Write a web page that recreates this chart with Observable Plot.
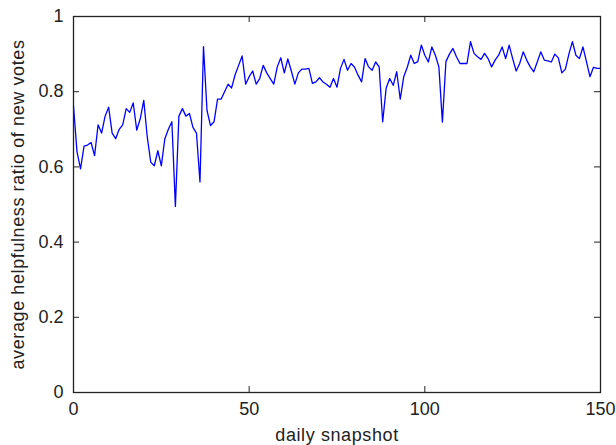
<!DOCTYPE html>
<html>
<head>
<meta charset="utf-8">
<script src="https://cdn.jsdelivr.net/npm/d3@7"></script>
<script src="https://cdn.jsdelivr.net/npm/@observablehq/plot@0.6"></script>
<style>
  html, body { margin: 0; padding: 0; background: #fff; }
  svg { display: block; }
</style>
</head>
<body>
<div id="chart"></div>
<script>
// Average helpfulness ratio of new votes, one value per daily snapshot (day 0..150)
const ratio = [
  0.762, 0.64, 0.595, 0.655, 0.658, 0.665, 0.63, 0.712, 0.69, 0.735,
  0.759, 0.69, 0.675, 0.70, 0.712, 0.755, 0.745, 0.77, 0.698, 0.728,
  0.777, 0.679, 0.612, 0.603, 0.643, 0.603, 0.675, 0.70, 0.72, 0.495,
  0.735, 0.755, 0.735, 0.742, 0.705, 0.69, 0.56, 0.92, 0.75, 0.71,
  0.72, 0.78, 0.78, 0.80, 0.82, 0.81, 0.845, 0.87, 0.895, 0.82,
  0.84, 0.855, 0.82, 0.835, 0.87, 0.85, 0.835, 0.82, 0.866, 0.89,
  0.85, 0.887, 0.855, 0.82, 0.85, 0.86, 0.86, 0.862, 0.822, 0.826,
  0.837, 0.826, 0.82, 0.812, 0.835, 0.812, 0.862, 0.886, 0.857, 0.875,
  0.865, 0.844, 0.826, 0.888, 0.866, 0.857, 0.879, 0.866, 0.72, 0.81,
  0.835, 0.817, 0.853, 0.78, 0.84, 0.865, 0.897, 0.875, 0.88, 0.924,
  0.897, 0.879, 0.919, 0.897, 0.866, 0.719, 0.88, 0.90, 0.915, 0.893,
  0.875, 0.875, 0.875, 0.933, 0.902, 0.893, 0.886, 0.902, 0.888, 0.866,
  0.884, 0.897, 0.919, 0.888, 0.924, 0.888, 0.855, 0.875, 0.906, 0.884,
  0.866, 0.853, 0.879, 0.906, 0.884, 0.882, 0.879, 0.90, 0.89, 0.85,
  0.86, 0.90, 0.933, 0.897, 0.888, 0.919, 0.88, 0.84, 0.865, 0.862,
  0.862
];
const xTicks = [0, 50, 100, 150];
const yTicks = [0, 0.2, 0.4, 0.6, 0.8, 1];
const xDomain = [0, 150];
const yDomain = [0, 1];
const xTitle = "daily snapshot";
const yTitle = "average helpfulness ratio of new votes";

const W = 616, H = 445;
const mL = 73, mR = 16, mT = 16, mB = 53;
const innerW = W - mL - mR, innerH = H - mT - mB;
const tickLen = 6;
const ink = "#222";
const fmt = d => String(d);

const chart = Plot.plot({
  width: W,
  height: H,
  marginLeft: mL,
  marginRight: mR,
  marginTop: mT,
  marginBottom: mB,
  style: { fontFamily: "'Liberation Sans', Arial, sans-serif", fontSize: "18px", color: ink, background: "#fff" },
  x: { domain: xDomain, ticks: xTicks },
  y: { domain: yDomain, ticks: yTicks },
  marks: [
    Plot.axisX(xTicks, { tickSize: 0, tickPadding: 10, tickFormat: fmt, label: null, fontSize: 18, fill: ink }),
    Plot.axisY(yTicks, { tickSize: 0, tickPadding: 10, tickFormat: fmt, label: null, fontSize: 18, fill: ink }),
    // inward ticks on all four sides (MATLAB style)
    Plot.tickY(yTicks, { y: d => d, stroke: ink, insetRight: innerW - tickLen }),
    Plot.tickY(yTicks, { y: d => d, stroke: ink, insetLeft: innerW - tickLen }),
    Plot.tickX(xTicks, { x: d => d, stroke: ink, insetTop: innerH - tickLen }),
    Plot.tickX(xTicks, { x: d => d, stroke: ink, insetBottom: innerH - tickLen }),
    Plot.line(ratio, { x: (d, i) => i, y: d => d, stroke: "#0000ff", strokeWidth: 1.3 }),
    Plot.frame({ stroke: ink, strokeWidth: 1.3 }),
    Plot.text([xTitle], { text: d => d, frameAnchor: "bottom", textAnchor: "middle", lineAnchor: "bottom", dy: 48, fontSize: 18, fill: ink }),
    Plot.text([yTitle], { text: d => d, frameAnchor: "left", textAnchor: "middle", rotate: -90, lineAnchor: "bottom", dx: -50, fontSize: 18, fill: ink })
  ]
});
// slight letter spacing on axis titles to match the reference rendering
chart.querySelectorAll("text").forEach(t => {
  if (t.textContent === xTitle || t.textContent === yTitle) t.setAttribute("letter-spacing", "0.6");
});
document.getElementById("chart").appendChild(chart);
</script>
</body>
</html>
